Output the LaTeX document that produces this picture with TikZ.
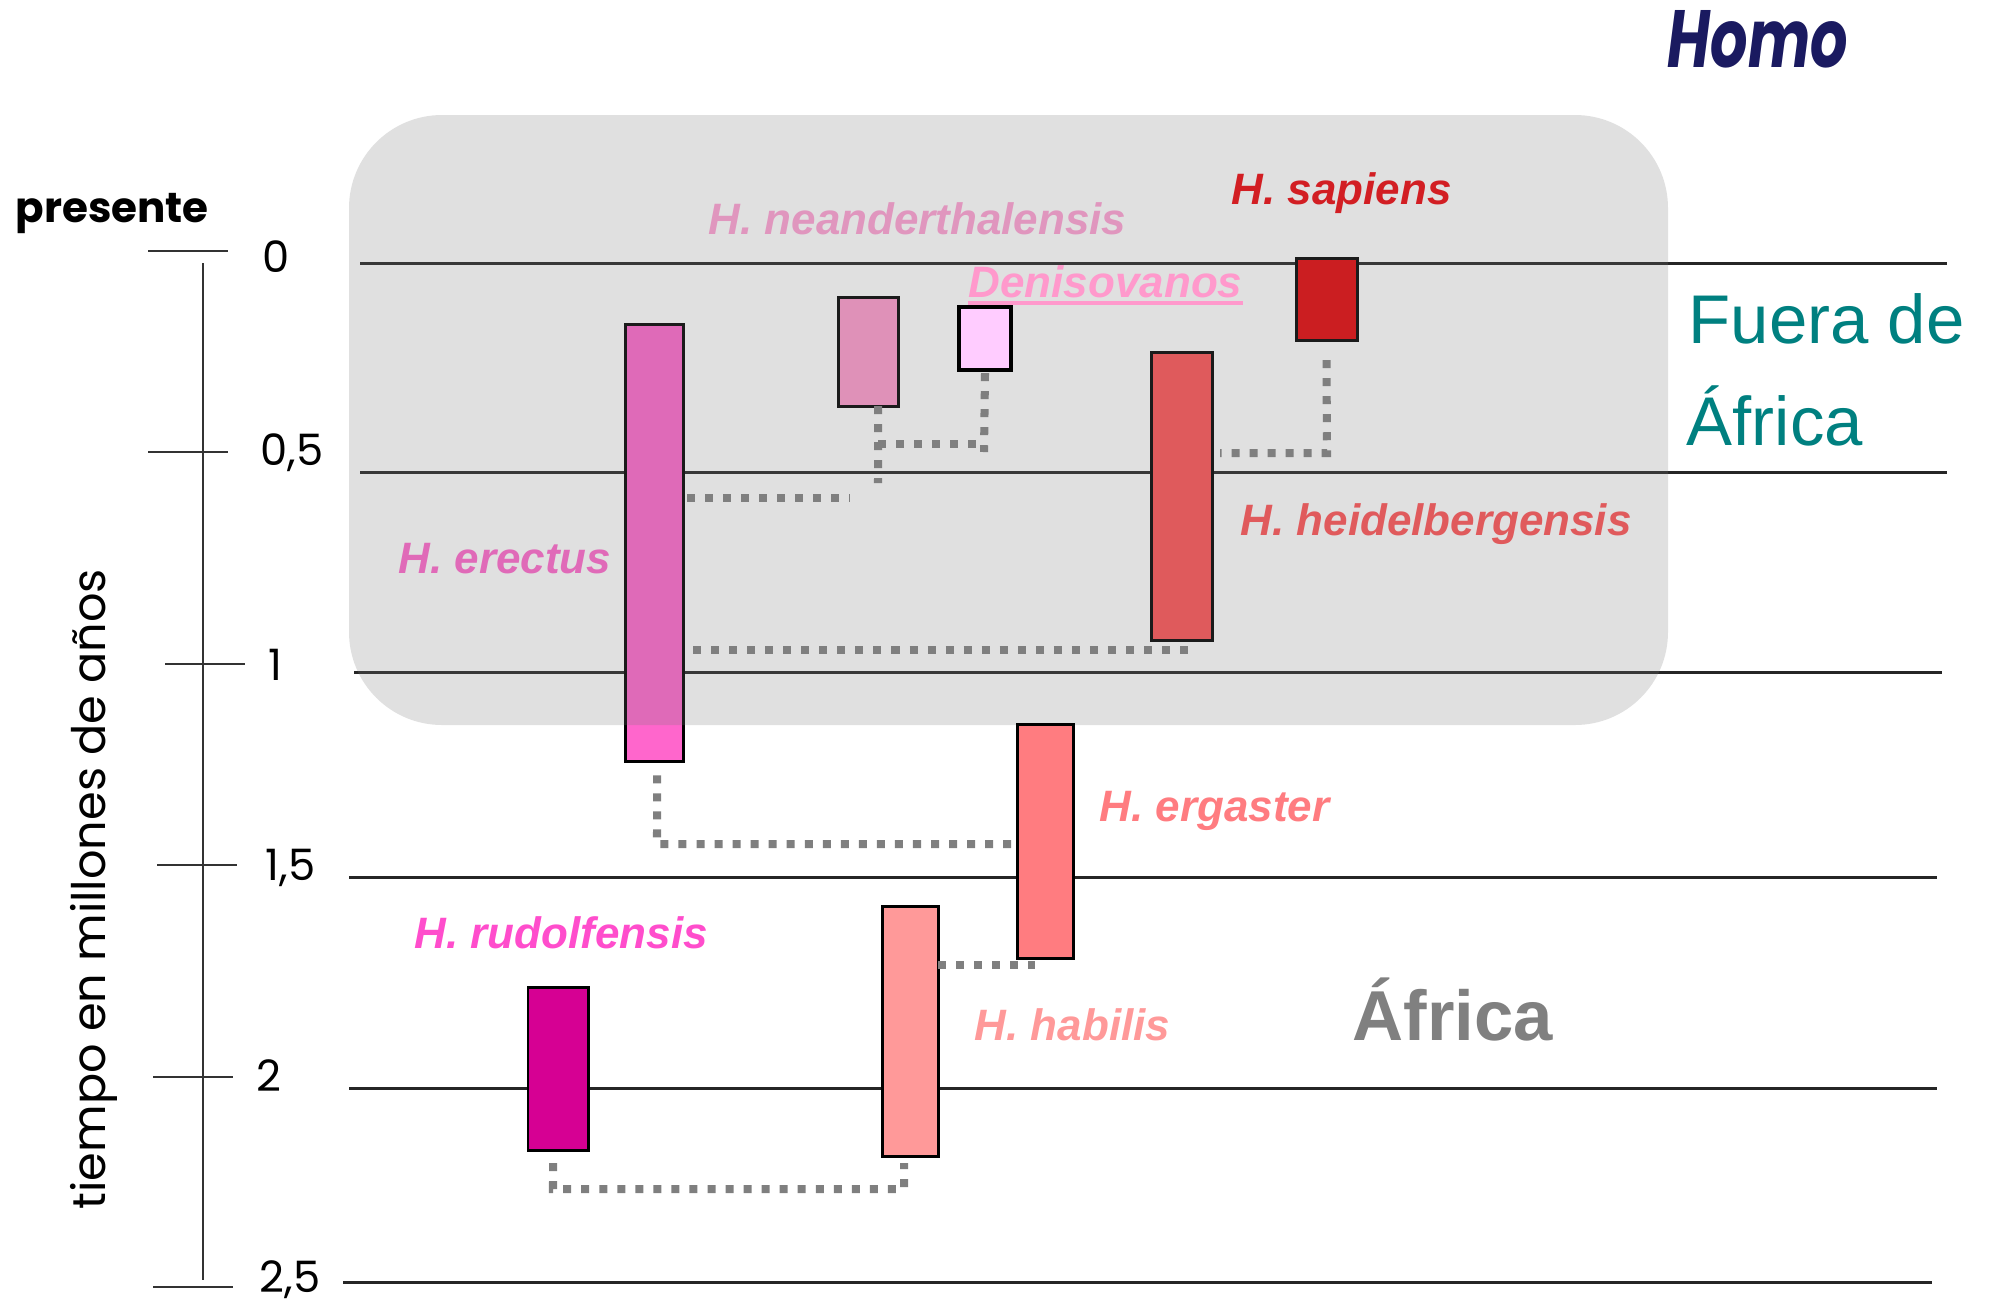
\documentclass[tikz,border=0pt]{standalone}
\usepackage{fontspec}
\usepackage{graphicx}
\setmainfont{Liberation Sans}
\newfontfamily\comic{Poppins}
\definecolor{gridc}{RGB}{38,38,38}
\definecolor{ovl}{RGB}{120,120,120}
\definecolor{dotgray}{RGB}{127,127,127}
\definecolor{cere}{RGB}{255,102,204}
\definecolor{cnea}{RGB}{255,153,204}
\definecolor{cden}{RGB}{255,204,255}
\definecolor{csap}{RGB}{229,3,8}
\definecolor{chei}{RGB}{255,81,84}
\definecolor{cerg}{RGB}{255,124,128}
\definecolor{chab}{RGB}{255,153,153}
\definecolor{crud}{RGB}{214,0,147}
\definecolor{tsap}{RGB}{210,30,35}
\definecolor{tnea}{RGB}{224,150,190}
\definecolor{tden}{RGB}{255,153,204}
\definecolor{thei}{RGB}{224,90,92}
\definecolor{tere}{RGB}{224,106,184}
\definecolor{terg}{RGB}{255,124,128}
\definecolor{trud}{RGB}{255,77,204}
\definecolor{thab}{RGB}{255,153,153}
\definecolor{teal1}{RGB}{0,128,128}
\definecolor{gray1}{RGB}{128,128,128}
\definecolor{navy1}{RGB}{26,26,96}
\definecolor{axc}{RGB}{51,51,51}
\begin{document}
\begin{tikzpicture}[x=0.01cm,y=-0.01cm,
  bar/.style={draw=black, line width=0.85pt, rectangle, inner sep=0pt, outer sep=0pt, anchor=north west},
  dotline/.style={draw=dotgray, line width=2.28pt, dash pattern=on 2.28pt off 2.85pt},
  gridline/.style={draw=gridc, line width=0.85pt},
  tickline/.style={draw=axc, line width=0.8pt},
  splabel/.style={inner sep=0pt, anchor=base west, font=\fontsize{12.5}{15}\selectfont\bfseries\itshape},
  ticklabel/.style={inner sep=0pt, anchor=base west, font=\comic\fontsize{12.3}{14}\selectfont}]
\useasboundingbox (0,0) rectangle (1993,1305);
% grid lines
\draw[gridline] (360,263) -- (1947,263);
\draw[gridline] (360,472) -- (1947,472);
\draw[gridline] (354,672) -- (1942,672);
\draw[gridline] (349,877) -- (1937,877);
\draw[gridline] (349,1088) -- (1937,1088);
\draw[gridline] (343,1282) -- (1932,1282);
% axis
\draw[tickline] (203,263) -- (203,1280);
\draw[tickline] (148,251) -- (228,251);
\draw[tickline] (148,452) -- (228,452);
\draw[tickline] (165,664) -- (245,664);
\draw[tickline] (157,865) -- (237,865);
\draw[tickline] (153,1077) -- (233,1077);
\draw[tickline] (153,1287) -- (233,1287);
\node[ticklabel] (t0) at (262,272) {0};
\node[ticklabel] (t05) at (260,465) {0,5};
\node[ticklabel] (t1) at (268,680) {1};
\node[ticklabel] (t15) at (265,880) {1,5};
\node[ticklabel] (t2) at (256,1091) {2};
\node[ticklabel] (t25) at (259,1292) {2,5};
\node[inner sep=0pt, anchor=base west, rotate=90] (axlab) at (105,1210) {\resizebox{6.40cm}{!}{\comic tiempo en millones de años}};
\node[inner sep=0pt, anchor=base west] (pres) at (15,222) {\resizebox{1.93cm}{!}{\comic\bfseries presente}};
\node[inner sep=0pt, anchor=base west, text=navy1] (homo) at (1667,67) {\resizebox{1.80cm}{0.57cm}{\comic\bfseries\itshape Homo}};
% bars under the overlay
\node[bar, fill=cere, minimum width=0.58cm, minimum height=4.37cm] (ere) at (625,324) {};
\node[bar, fill=cnea, minimum width=0.60cm, minimum height=1.09cm] (nea) at (838,297) {};
\node[bar, fill=csap, minimum width=0.61cm, minimum height=0.82cm] (sap) at (1296,258) {};
\node[bar, fill=chei, minimum width=0.61cm, minimum height=2.88cm] (hei) at (1151,352) {};
% overlay
\fill[ovl, fill opacity=0.23, rounded corners=0.93cm] (349,115) rectangle (1668,725);
% bars outside
\node[bar, fill=cerg, minimum width=0.56cm, minimum height=2.34cm] (erg) at (1017,724) {};
\node[bar, fill=chab, minimum width=0.56cm, minimum height=2.50cm] (hab) at (882,906) {};
\node[bar, fill=crud, minimum width=0.60cm, minimum height=1.63cm] (rud) at (528,987) {};
\node[bar, fill=cden, line width=1.1pt, minimum width=0.52cm, minimum height=0.63cm] (den) at (959,307) {};
% connectors
\coordinate (kEN) at (850,498);
\draw[dotline] ([xshift=0.04cm]ere.east |- kEN) -- (kEN);
\coordinate (kNbot) at (878,483);
\coordinate (kDbot) at (984,452);
\coordinate (kNh) at (878,444);
\coordinate (kDh) at (984,444);
\draw[dotline] ([xshift=0.10cm]nea.south) -- (kNbot);
\draw[dotline] ([yshift=-0.03cm]den.south) -- (kDbot);
\draw[dotline] (kNh) -- (kDh);
\coordinate (kS) at (1327,453);
\draw[dotline] ([yshift=-0.20cm]sap.south) -- (kS) -- ([xshift=0.08cm]hei.east |- kS);
\coordinate (kH) at (1188,650);
\draw[dotline] ([xshift=0.10cm]ere.east |- kH) -- (kH);
\coordinate (kE) at (657,844);
\draw[dotline] ([yshift=-0.14cm,xshift=0.03cm]ere.south) -- (kE) -- ([xshift=-0.05cm]erg.west |- kE);
\coordinate (kG) at (1035,965);
\draw[dotline] (hab.east |- kG) -- (kG);
\coordinate (kR1) at (553,1189);
\coordinate (kR2) at (904,1189);
\draw[dotline] ([xshift=-0.05cm,yshift=-0.13cm]rud.south) -- (kR1) -- (kR2) -- ([xshift=-0.06cm,yshift=-0.07cm]hab.south);
% species labels
\node[splabel, text=tsap] (lsap) at (1231,204) {H. sapiens};
\node[splabel, text=tnea] (lnea) at (708,234) {H. neanderthalensis};
\node[splabel, text=tden] (lden) at (968,297) {Denisovanos};
\draw[tden, line width=1.1pt] ([yshift=-0.06cm]lden.base west) -- ([yshift=-0.06cm]lden.base east);
\node[splabel, text=thei] (lhei) at (1240,535) {H. heidelbergensis};
\node[splabel, text=tere] (lere) at (398,573) {H. erectus};
\node[splabel, text=terg] (lerg) at (1099,821) {H. ergaster};
\node[splabel, text=trud] (lrud) at (414,948) {H. rudolfensis};
\node[splabel, text=thab] (lhab) at (974,1040) {H. habilis};
% region labels
\node[inner sep=0pt, anchor=base west, text=teal1, font=\fontsize{19.6}{29}\selectfont] (fuera) at (1688,343) {Fuera de};
\node[inner sep=0pt, anchor=base west, text=teal1, font=\fontsize{19.6}{29}\selectfont] (fafr) at (1686,445) {África};
\node[inner sep=0pt, anchor=base west, text=gray1, font=\fontsize{20.1}{24}\selectfont\bfseries] (afr) at (1352,1040) {África};
\end{tikzpicture}
\end{document}
